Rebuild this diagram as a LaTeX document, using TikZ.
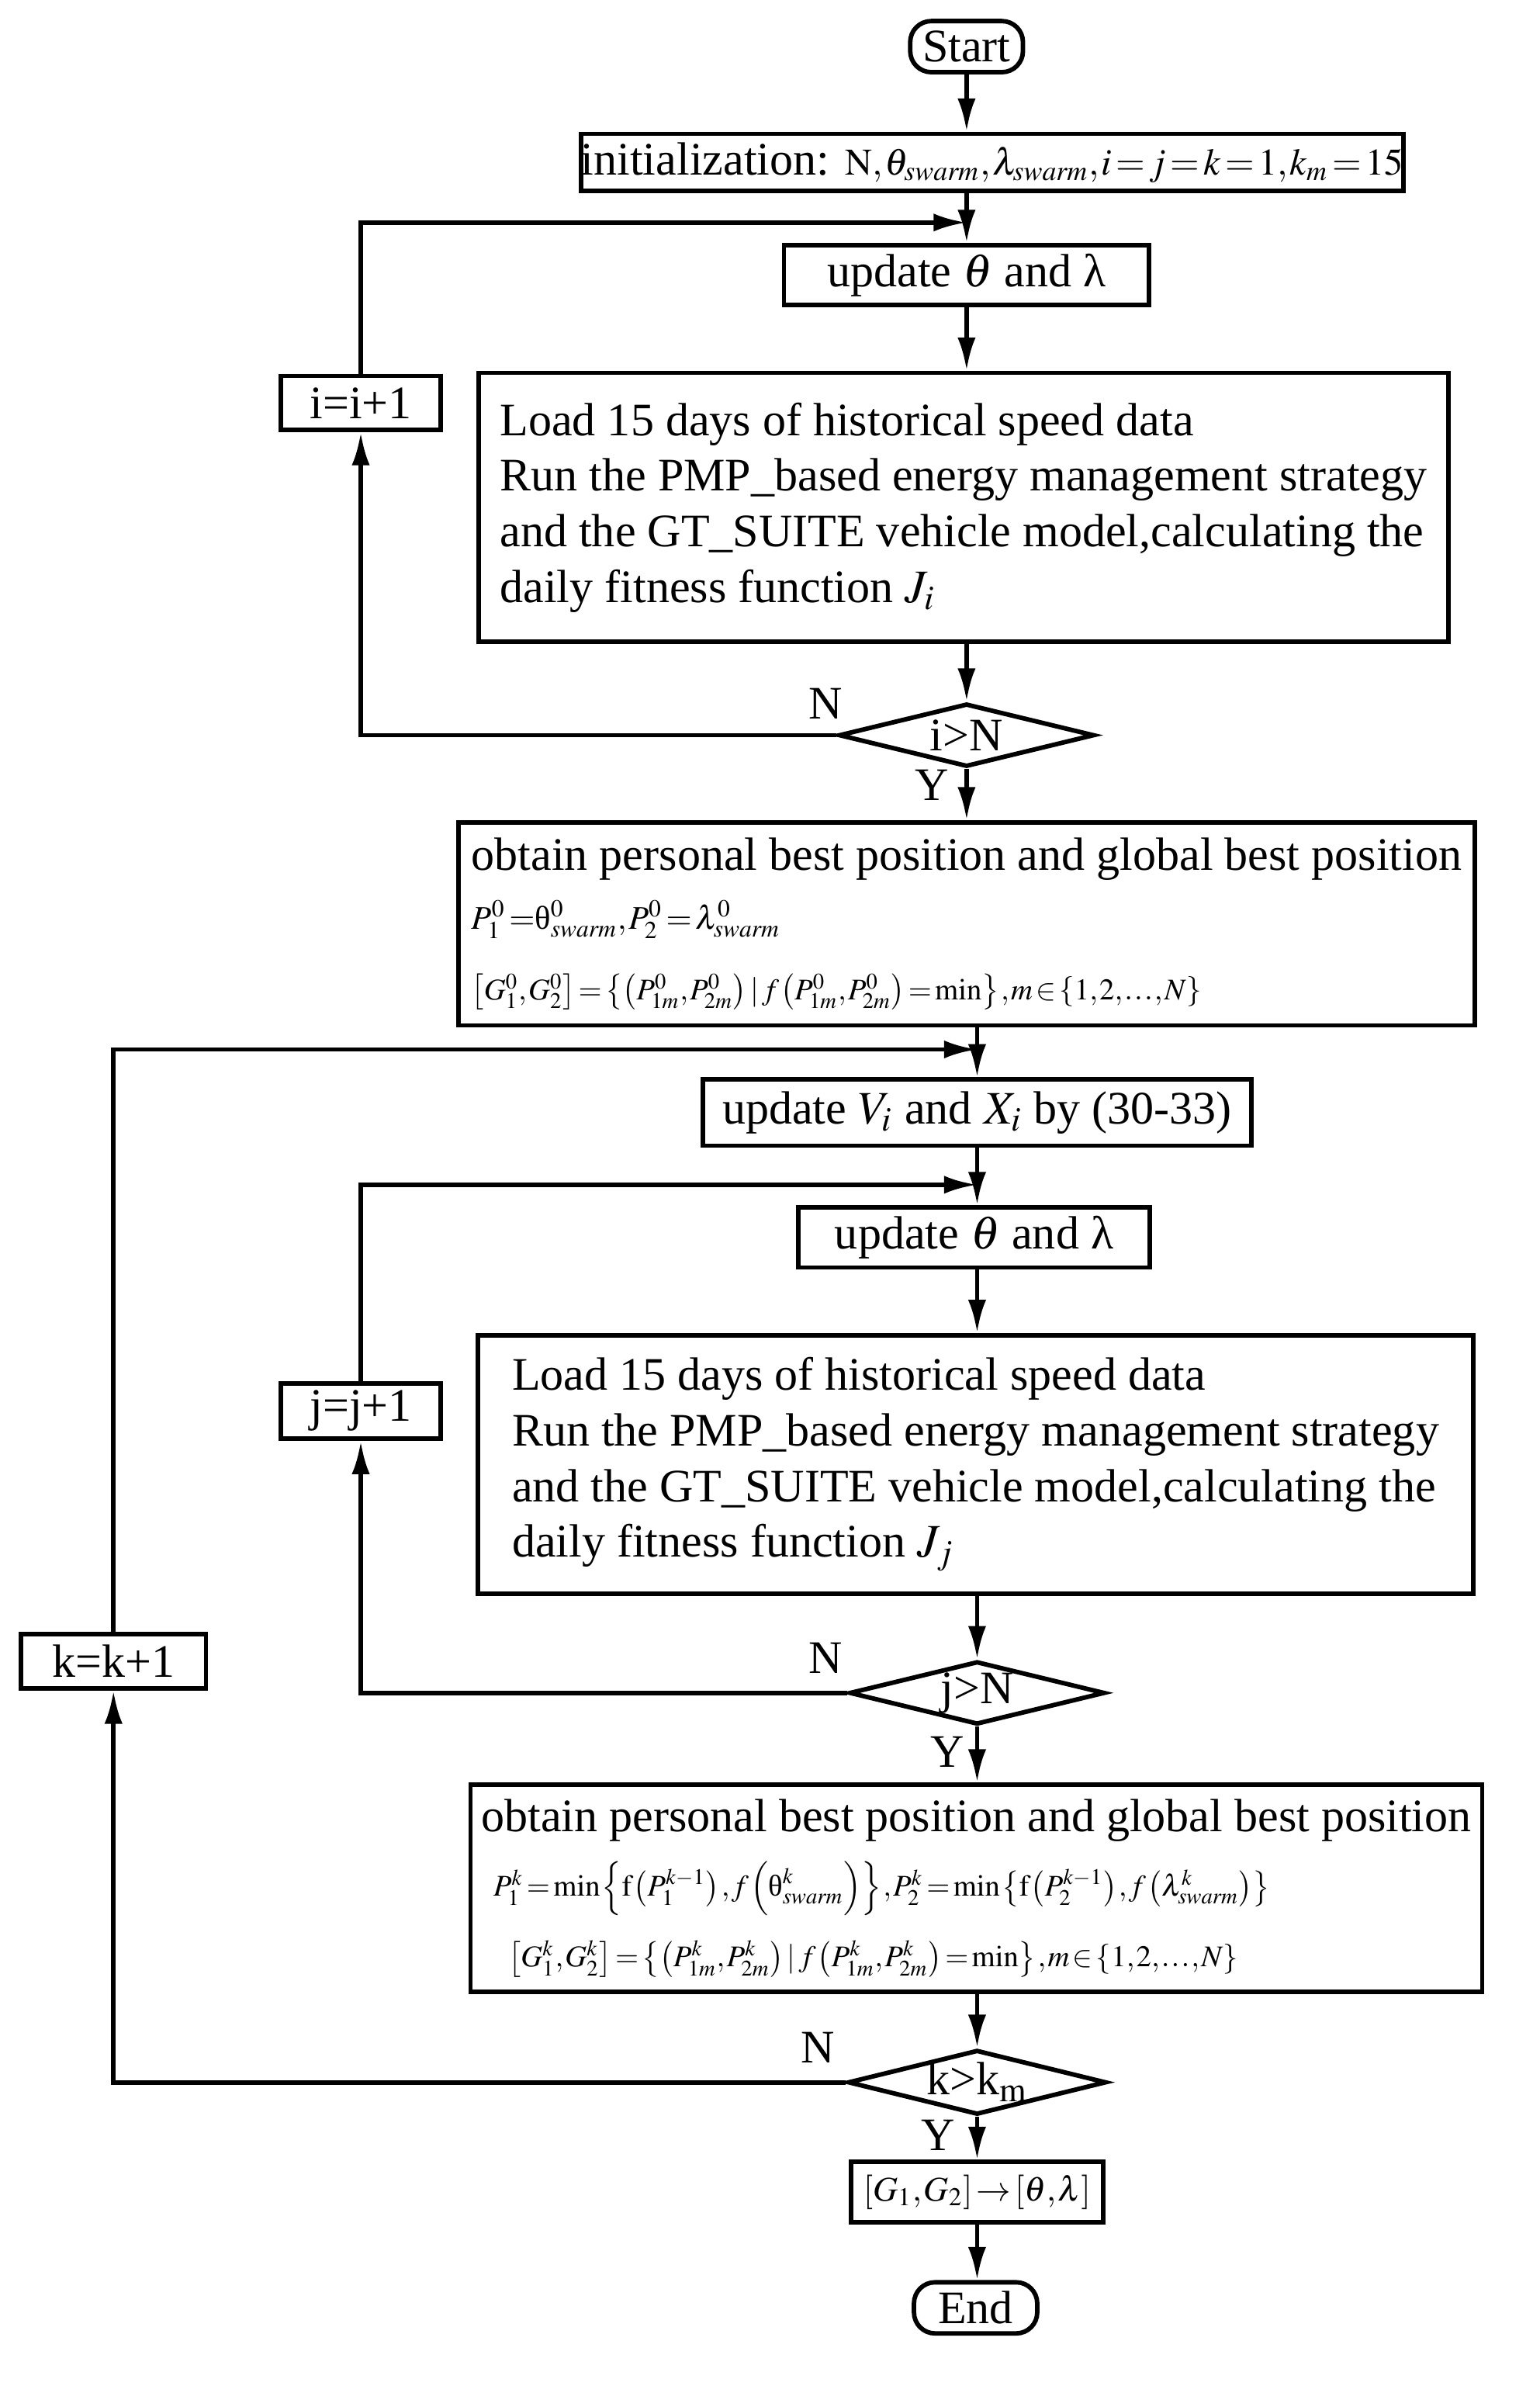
\documentclass[tikz,border=0pt]{standalone}
\usepackage{amsmath}
\usepackage{mathptmx}
\usepackage{fontspec}
\setmainfont{Liberation Serif}
\usepackage{tikz}
\usetikzlibrary{arrows.meta,shapes.geometric}
\tikzset{>={Latex[length=11pt,width=6pt]}}
\tikzset{
    box/.style={draw,line width=1.5pt,inner sep=0pt,align=center},
    textbox/.style={draw,line width=1.5pt,inner sep=0pt,align=left},
    term/.style={draw,line width=1.5pt,rounded corners=7pt,inner sep=0pt,minimum height=17pt},
    decision/.style={draw,diamond,aspect=4,line width=1.5pt,inner sep=0pt,minimum width=85pt,minimum height=21pt}
}
\newcommand{\swm}{\mathit{swarm}}
\newcommand{\tight}{\thickmuskip=2mu\medmuskip=1mu\thinmuskip=1mu}
\begin{document}
\begin{tikzpicture}[x=0.5pt,y=-0.5pt,line width=1.5pt,font=\fontsize{15.5}{18.5}\selectfont]
    \useasboundingbox (0,0) rectangle (1024,1587);

    % first loop
    \node[term,minimum width=37.5pt] (start) at (643,31) {Start};
    \node[box,minimum width=273pt,minimum height=19pt] (init) at (660,108)
        {initialization: {\fontsize{12.5}{14}\selectfont\tight\(\mathrm{N},\theta_{\swm},\lambda_{\swm},i=j=k=1,k_m=15\)}};
    \node[box,minimum width=121.5pt,minimum height=20pt] (upd1) at (643,183) {update \(\theta\) and λ};
    \node[textbox,minimum width=322.5pt,minimum height=89.5pt] (load1) at (641,337.5)
        {Load 15 days of historical speed data\\
         Run the PMP\_based energy management strategy\\
         and the GT\_SUITE vehicle model,calculating the\\
         daily fitness function \(J_i\)};
    \node[decision] (dec1) at (643,489) {i>N};
    \node[box,minimum width=53pt,minimum height=18pt] (inc1) at (240,268) {i=i+1};
    \coordinate (back1) at (643,148);
    \node (n1) at (549,468) {N};
    \node (y1) at (620,522) {Y};

    \node[textbox,minimum width=338pt,minimum height=67.5pt] (best1) at (643,614.5)
        {obtain personal best position and global best position\\[1pt]
         {\fontsize{11}{13}\selectfont\tight \(P_1^0=\)θ\(^0_{\swm},P_2^0=\lambda^0_{\swm}\)}\\[5pt]
         {\fontsize{10}{13}\selectfont\tight \(\left[G_1^0,G_2^0\right]=\left\{\left(P_{1m}^0,P_{2m}^0\right)\mid f\left(P_{1m}^0,P_{2m}^0\right)=\min\right\},m\in\left\{1,2,\ldots,N\right\}\)}};

    % second loop
    \node[box,minimum width=182.5pt,minimum height=22pt] (updv) at (650,740) {update \(V_i\) and \(X_i\) by (30-33)};
    \coordinate (back3) at (650,698);
    \node[box,minimum width=117pt,minimum height=20pt] (upd2) at (648,823) {update \(\theta\) and λ};
    \coordinate (back2) at (650,788);
    \node[textbox,minimum width=331pt,minimum height=86pt] (load2) at (649,974)
        {Load 15 days of historical speed data\\
         Run the PMP\_based energy management strategy\\
         and the GT\_SUITE vehicle model,calculating the\\
         daily fitness function \(J_j\)};
    \node[decision] (dec2) at (650,1126) {j>N};
    \node[box,minimum width=53pt,minimum height=18.5pt] (inc2) at (240,938.5) {j=j+1};
    \node (n2) at (549,1103) {N};
    \node (y2) at (630,1165) {Y};

    \node[textbox,minimum width=336.5pt,minimum height=69pt] (best2) at (649.5,1256)
        {obtain personal best position and global best position\\[3pt]
         {\fontsize{10}{12}\selectfont\tight \hspace*{4pt}\(P_1^k=\min\left\{\mathrm{f}\left(P_1^{k-1}\right),f\left(\text{θ}^k_{\swm}\right)\right\},P_2^k=\min\left\{\mathrm{f}\left(P_2^{k-1}\right),f\left(\lambda^k_{\swm}\right)\right\}\)}\\[5pt]
         {\fontsize{10}{12}\selectfont\tight \hspace*{9pt}\(\left[G_1^k,G_2^k\right]=\left\{\left(P_{1m}^k,P_{2m}^k\right)\mid f\left(P_{1m}^k,P_{2m}^k\right)=\min\right\},m\in\left\{1,2,\ldots,N\right\}\)}};

    % outer loop
    \node[decision] (dec3) at (650,1385) {k>k\(_{\mathrm{m}}\)};
    \node[box,minimum width=61.5pt,minimum height=18pt] (inc3) at (75.5,1105) {k=k+1};
    \node (n3) at (544,1362) {N};
    \node (y3) at (624,1420) {Y};
    \node[box,minimum width=84pt,minimum height=20pt] (res) at (650,1458)
        {\fontsize{11.5}{13}\selectfont\tight\(\left[G_1,G_2\right]\rightarrow\left[\theta,\lambda\right]\)};
    \node[term,minimum width=41pt] (end) at (649,1535) {End};

    \draw[->] (start) -- (start |- init.north);
    \draw[->] (upd1 |- init.south) -- (upd1);
    \draw[->] (upd1) -- (upd1 |- load1.north);
    \draw[->] (upd1 |- load1.south) -- (dec1);
    \draw[->] (dec1) -- (best1);
    \draw[->] (dec1) -| (inc1);
    \draw[->] (inc1) |- (back1);

    \draw[->] (updv |- best1.south) -- (updv);
    \draw[->] (updv) -- (updv |- upd2.north);
    \draw[->] (updv |- upd2.south) -- (updv |- load2.north);
    \draw[->] (updv |- load2.south) -- (dec2);
    \draw[->] (dec2) -- (dec2 |- best2.north);
    \draw[->] (dec2) -| (inc2);
    \draw[->] (inc2) |- (back2);

    \draw[->] (dec3 |- best2.south) -- (dec3);
    \draw[->] (dec3) -- (res);
    \draw[->] (res) -- (res |- end.north);
    \draw[->] (dec3) -| (inc3);
    \draw[->] (inc3) |- (back3);
\end{tikzpicture}
\end{document}
